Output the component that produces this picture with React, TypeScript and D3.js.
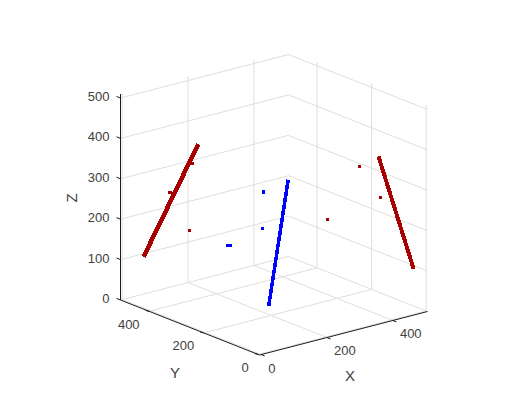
import React from "react";
import * as d3 from "d3";

// Axis limits and ticks
const xLim = [-5, 505];
const yLim = [-5, 505];
const zLim = [0, 510];
const xTicks = [0, 200, 400];
const yTicks = [0, 200, 400];
const zTicks = [0, 100, 200, 300, 400, 500];

// 3D line (end points) and its projections on the back walls
const lineX = [65, 231];
const lineY = [46, 175];
const lineZ = [92, 336];

// Blue isolated points in 3D
const blueX = [146, 212, 215, 203, 207];
const blueY = [167, 244, 246, 362, 358];
const blueZ = [236, 292, 290, 130, 129];

// Red points projected on the wall y = max (x, z)
const redXZx = [143, 146, 212, 215, 205];
const redXZz = [235, 235, 291, 291, 128];

// Red points projected on the wall x = max (y, z)
const redYZy = [167, 244, 362];
const redYZz = [237, 293, 131];

const F = [259.5, 355]; // front corner
const xsx = d3.scaleLinear().domain(xLim).range([0, 168]);
const xsy = d3.scaleLinear().domain(xLim).range([0, -43.5]);
const ysx = d3.scaleLinear().domain(yLim).range([0, -139]);
const ysy = d3.scaleLinear().domain(yLim).range([0, -55]);
const zsy = d3.scaleLinear().domain(zLim).range([0, -206]);

const P = (x: number, y: number, z: number): [number, number] => [
  F[0] + xsx(x) + ysx(y),
  F[1] + xsy(x) + ysy(y) + zsy(z),
];

const GRID = "#dedede";
const AXIS = "#1c1c1c";
const TXT = "#404040";
const RED = "#a80000";
const BLUE = "#0000ff";
const FONT = "'Liberation Sans', Arial, sans-serif";

const seg = (a: [number, number], b: [number, number], stroke: string, w = 1, crisp = false, key?: string) => (
  <line
    key={key}
    x1={a[0]}
    y1={a[1]}
    x2={b[0]}
    y2={b[1]}
    stroke={stroke}
    strokeWidth={w}
    shapeRendering={crisp ? "crispEdges" : undefined}
  />
);

const sq = (p: [number, number], c: string, key: string) => (
  <rect key={key} x={Math.round(p[0] - 1.5)} y={Math.round(p[1] - 1.5)} width={3} height={3} fill={c} shapeRendering="crispEdges" />
);

export default function App() {
  const [x0, x1] = xLim;
  const [y0, y1] = yLim;
  const [z0, z1] = zLim;
  const grid: React.ReactNode[] = [];
  zTicks.forEach((z) => {
    grid.push(seg(P(x0, y1, z), P(x1, y1, z), GRID, 1, false, `zx${z}`));
    grid.push(seg(P(x1, y1, z), P(x1, y0, z), GRID, 1, false, `zy${z}`));
  });
  xTicks.forEach((x) => {
    grid.push(seg(P(x, y0, z0), P(x, y1, z0), GRID, 1, false, `fx${x}`));
    grid.push(seg(P(x, y1, z0), P(x, y1, z1), GRID, 1, false, `vx${x}`));
  });
  yTicks.forEach((y) => {
    grid.push(seg(P(x0, y, z0), P(x1, y, z0), GRID, 1, false, `fy${y}`));
    grid.push(seg(P(x1, y, z0), P(x1, y, z1), GRID, 1, false, `vy${y}`));
  });

  return (
    <svg
      width={529}
      height={420}
      style={{ position: "absolute", left: 0, top: 0, background: "#fff" }}
      fontFamily={FONT}
    >
      <g>{grid}</g>

      {seg(P(lineX[0], y1, lineZ[0]), P(lineX[1], y1, lineZ[1]), RED, 4.5, true, "rl")}
      {seg(P(x1, lineY[0], lineZ[0]), P(x1, lineY[1], lineZ[1]), RED, 4, true, "rr")}
      {seg(P(lineX[0], lineY[0], lineZ[0]), P(lineX[1], lineY[1], lineZ[1]), BLUE, 3.5, true, "bl")}

      {redXZx.map((x, i) => sq(P(x, y1, redXZz[i]), RED, `a${i}`))}
      {redYZy.map((y, i) => sq(P(x1, y, redYZz[i]), RED, `b${i}`))}
      {blueX.map((x, i) => sq(P(x, blueY[i], blueZ[i]), BLUE, `c${i}`))}

      {seg(P(x0, y0, z0), P(x1, y0, z0), AXIS, 1, false, "ax")}
      {seg(P(x0, y0, z0), P(x0, y1, z0), AXIS, 1, false, "ay")}
      {seg(P(x0, y1, z0), P(x0, y1, z1), AXIS, 1, false, "az")}

      {xTicks.map((x) => {
        const p = P(x, y0, z0);
        return (
          <g key={`xt${x}`}>
            {seg(p, [p[0] + 3.5, p[1] + 1.4], AXIS)}
            <text x={p[0] + 7} y={p[1] + 14.5} fontSize={13} fill={TXT} dominantBaseline="middle">
              {x}
            </text>
          </g>
        );
      })}
      {yTicks.map((y) => {
        const p = P(x0, y, z0);
        return (
          <g key={`yt${y}`}>
            {seg(p, [p[0] - 3.5, p[1] - 0.9], AXIS)}
            <text x={p[0] - 9.5} y={p[1] + 14} fontSize={13} fill={TXT} textAnchor="end" dominantBaseline="middle">
              {y}
            </text>
          </g>
        );
      })}
      {zTicks.map((z) => {
        const p = P(x0, y1, z);
        return (
          <g key={`zt${z}`}>
            {seg(p, [p[0] - 4, p[1] - 1.6], AXIS)}
            <text x={p[0] - 11} y={p[1] - 0.5} fontSize={13} fill={TXT} textAnchor="end" dominantBaseline="middle">
              {z}
            </text>
          </g>
        );
      })}

      <text x={350} y={377} fontSize={15} fill={TXT} textAnchor="middle" dominantBaseline="middle">X</text>
      <text x={175} y={374.5} fontSize={15} fill={TXT} textAnchor="middle" dominantBaseline="middle">Y</text>
      <text
        transform="translate(73,198) rotate(-90)"
        fontSize={15}
        fill={TXT}
        textAnchor="middle"
        dominantBaseline="middle"
      >
        Z
      </text>
    </svg>
  );
}
